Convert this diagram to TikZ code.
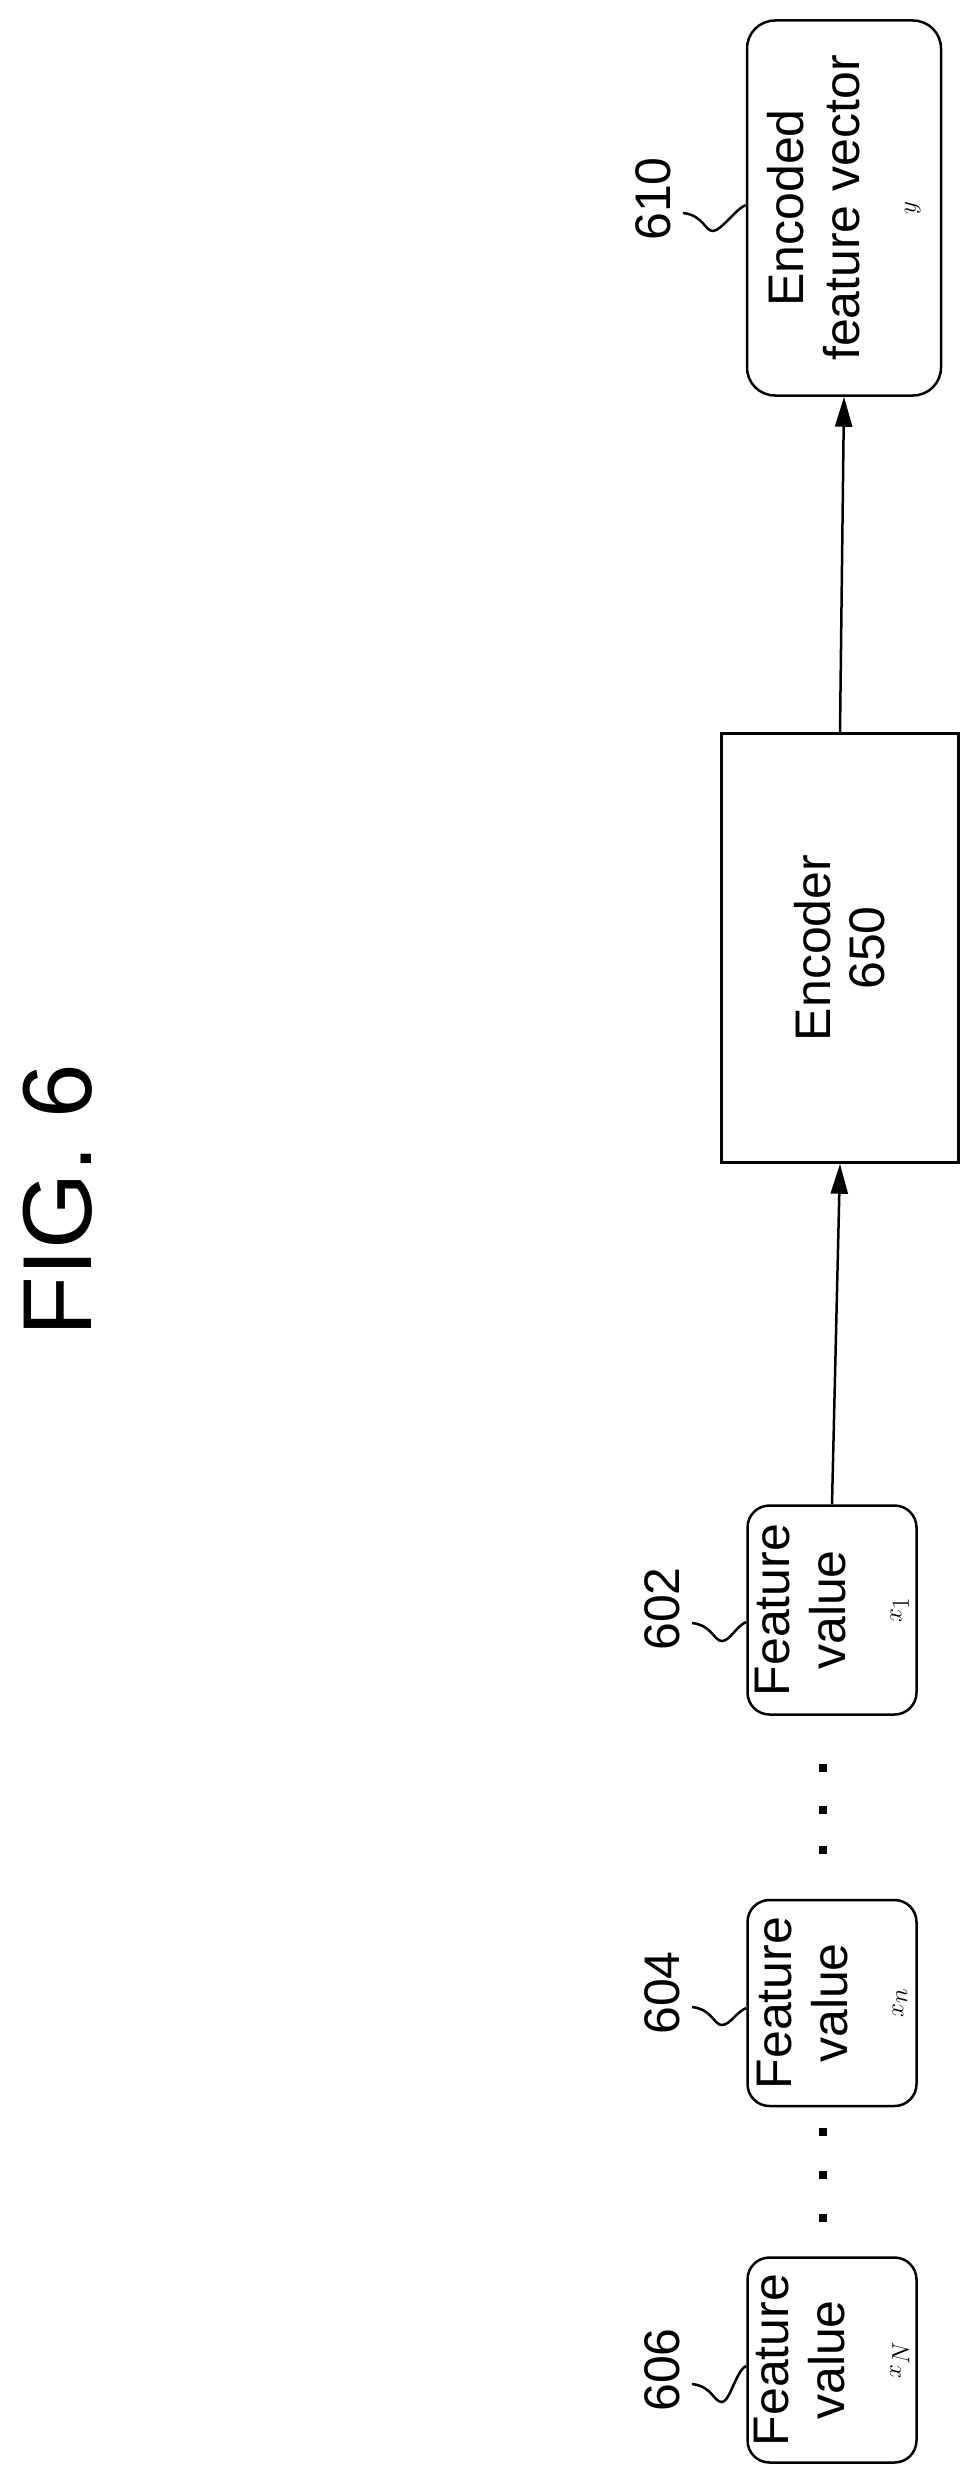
\documentclass[tikz,border=0pt]{standalone}
\usepackage{fontspec}
\setmainfont{Liberation Sans}
\usetikzlibrary{arrows.meta}
\begin{document}
\begin{tikzpicture}[x=1pt,y=-1pt,
  fv/.style={draw,line width=2.5pt,rounded corners=22pt,rotate=90,align=center,inner sep=0pt,font=\fontsize{50}{56}\selectfont},
  enc/.style={draw,line width=2.5pt,rotate=90,align=center,inner sep=0pt,font=\fontsize{50}{54}\selectfont},
  lbl/.style={rotate=90,inner sep=0pt,font=\fontsize{50}{56}\selectfont},
  lead/.style={line width=2.5pt},
  arr/.style={line width=2.5pt,-{Triangle[length=30pt,width=17pt]}},
  dotm/.style={fill,minimum size=8pt,inner sep=0pt}]
\useasboundingbox (0,0) rectangle (969,2483);
\node[rotate=90,font=\fontsize{98}{100}\selectfont] (fig) at (58,1200) {FIG. 6};
\node[fv,minimum width=375pt,minimum height=194pt,rounded corners=28pt] (b610) at (844,208) {Encoded\\feature vector\\$y$};
\node[enc,minimum width=429pt,minimum height=237pt] (enc) at (840,948) {Encoder\\650};
\node[fv,minimum width=209pt,minimum height=169pt] (b602) at (832,1610) {Feature\\value\\$x_{1}$};
\node[fv,minimum width=206pt,minimum height=169pt] (b604) at (832,2003) {Feature\\value\\$x_{n}$};
\node[fv,minimum width=205pt,minimum height=169pt] (b606) at (832,2360) {Feature\\value\\$x_{N}$};
\node[lbl] (l610) at (653,199) {610};
\node[lbl] (l602) at (662,1609) {602};
\node[lbl] (l604) at (662,1993) {604};
\node[lbl] (l606) at (662,2370) {606};
\foreach \l/\b/\y in {l610/b610/205,l602/b602/1622,l604/b604/2008,l606/b606/2366}{
  \draw[lead] ([xshift=12pt,yshift=-14pt]\l.south) .. controls +(20,2) and +(-8,0) .. ++(30,18) .. controls +(8,0) and +(-10,4) .. (\b.north |- 0,\y);
}
\draw[arr] (enc.east) -- (b610.west);
\draw[arr] (b602.east) -- (enc.west);
\foreach \y [count=\i] in {1768,1810,1850,2132,2175,2218}{ \node[dotm] (d\i) at (823,\y) {}; }
\end{tikzpicture}
\end{document}
